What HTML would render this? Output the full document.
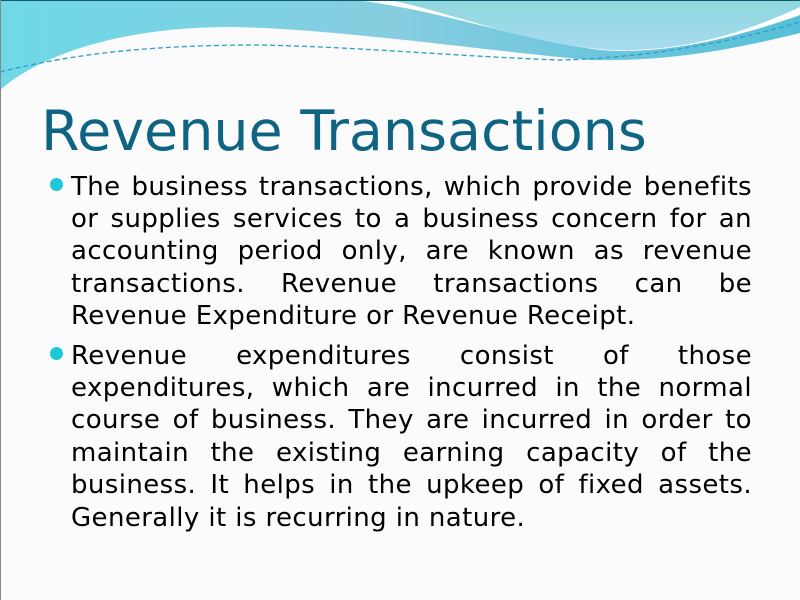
<!DOCTYPE html>
<html><head><meta charset="utf-8"><style>
html,body{margin:0;padding:0}
body{width:800px;height:600px;overflow:hidden;position:relative;background:#fbfbfb;font-family:"DejaVu Sans","Liberation Sans",sans-serif}
.l{position:absolute;left:71px;width:681px;font-size:26px;letter-spacing:0.4px;color:#000;text-align:justify;text-align-last:justify;white-space:nowrap;line-height:30px}
.l.last{text-align-last:left}
.b{position:absolute;left:50px;width:13px;height:13px;border-radius:50%;background:#1ec8d8}
</style></head><body>
<svg width="800" height="110" style="position:absolute;left:0;top:0">
<defs>
<linearGradient id="g1" x1="0" y1="0" x2="1" y2="0"><stop offset="0" stop-color="#6fd8e6"/><stop offset="0.5" stop-color="#86cde0"/><stop offset="1" stop-color="#55c0d8"/></linearGradient>
<linearGradient id="g2" x1="0" y1="0" x2="0" y2="1"><stop offset="0" stop-color="#8ed8dc"/><stop offset="1" stop-color="#a8daf0"/></linearGradient>
</defs>
<path d="M0,0 L800,0 L800,33 C750,45 680,62 590,60 C480,50 330,28 230,27 C120,27 40,55 0,90 Z" fill="url(#g1)"/>
<path d="M355,0 L800,0 L800,15 C730,40 660,55 600,50 C520,40 440,10 355,0 Z" fill="#ffffff"/>
<path d="M390,0 L800,0 L800,7 C740,35 680,52 610,50 C530,45 460,15 390,0 Z" fill="url(#g2)"/>
<path d="M0,72 C80,52 160,45 260,45 C360,47 450,56 560,60 C650,58 740,40 800,22" fill="none" stroke="#2a9fc8" stroke-width="1.3" stroke-dasharray="5,3"/>
<path d="M0,0 L800,0" stroke="#0c5a6e" stroke-width="2"/>
</svg>
<div style="position:absolute;left:0;top:0;width:1px;height:600px;background:#888"></div>
<div style="position:absolute;left:41px;top:98px;font-size:55.5px;color:#0e6482;white-space:nowrap;line-height:68px">Revenue Transactions</div>
<div class="b" style="top:178px"></div>
<div>
<div class="l" style="top:172px">The business transactions, which provide benefits</div>
<div class="l" style="top:204px">or supplies services to a business concern for an</div>
<div class="l" style="top:236px">accounting period only, are known as revenue</div>
<div class="l" style="top:269px">transactions. Revenue transactions can be</div>
<div class="l last" style="top:301px">Revenue Expenditure or Revenue Receipt.</div>
</div>
<div class="b" style="top:347px"></div>
<div>
<div class="l" style="top:341px">Revenue expenditures consist of those</div>
<div class="l" style="top:373px">expenditures, which are incurred in the normal</div>
<div class="l" style="top:405px">course of business. They are incurred in order to</div>
<div class="l" style="top:438px">maintain the existing earning capacity of the</div>
<div class="l" style="top:470px">business. It helps in the upkeep of fixed assets.</div>
<div class="l last" style="top:503px">Generally it is recurring in nature.</div>
</div>
</body></html>
